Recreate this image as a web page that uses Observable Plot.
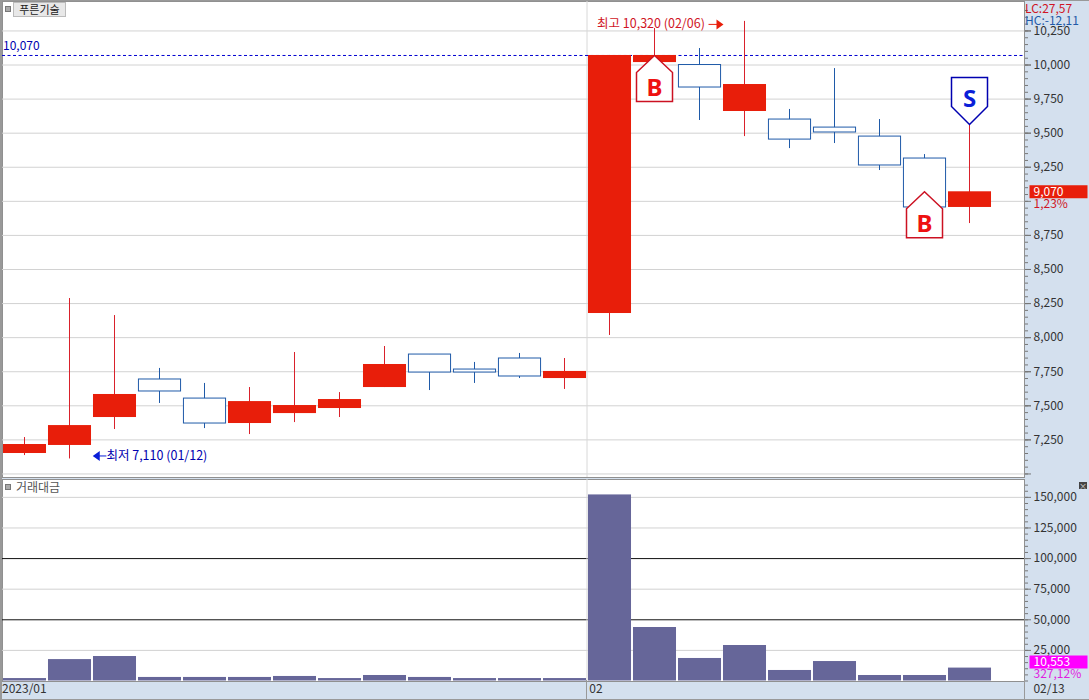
<!DOCTYPE html>
<html><head><meta charset="utf-8">
<script src="https://cdn.jsdelivr.net/npm/d3@7"></script>
<script src="https://cdn.jsdelivr.net/npm/@observablehq/plot@0.6"></script>
<style>
html,body{margin:0;padding:0;background:#d4e0ee;overflow:hidden}
#c{position:relative;width:1089px;height:700px;overflow:hidden;background:#d4e0ee;font-family:"Liberation Sans Narrow","Noto Sans CJK KR",sans-serif}
#c svg{position:absolute;left:0;background:transparent;font-family:"Liberation Sans Narrow","Noto Sans CJK KR",sans-serif}
.h{position:absolute;font-size:12px;line-height:12px;white-space:nowrap}
.btn{left:13px;top:2px;width:51px;height:13px;background:#e8e8e8;border:1px solid #bbb;color:#222;text-align:center;font-family:"Noto Sans CJK KR";font-size:11px;line-height:13px}
.sq{width:4px;height:4px;background:#aaa;border:1px solid #777;left:5px}
.lbl{left:16px;top:481px;color:#555;font-family:"Noto Sans CJK KR";font-size:12px}
.x{left:1079px;top:482px;width:8px;height:7px;background:#444;color:#ddd;font-size:8px;line-height:7px;text-align:center}
.edge{position:absolute;background:#999}
</style></head><body><div id="c"></div>
<script>
const idx   = [1,2,3,4,5,6,7,8,9,10,11,12,13,14,15,16,17,18,19,20,21,22];
const opens = [7150,7209,7414,7693,7553,7370,7443,7480,7634,7876,7766,7847,7700,8177,10018,10000,9659,9600,9541,9475,9314,8955];
const closes= [7216,7355,7583,7605,7370,7531,7502,7546,7803,7744,7744,7715,7752,10070,10070,9835,9857,9453,9505,9263,8955,9070];
const highs = [7267,8287,8162,7774,7664,7634,7891,7597,7935,7876,7818,7884,7847,10070,10268,10121,10320,9674,9974,9600,9343,9564];
const lows  = [7135,7110,7326,7517,7333,7289,7377,7414,7634,7612,7664,7700,7620,8016,10018,9593,9475,9387,9424,9226,8955,8837];
const turnover=[2000,17500,20000,2900,2900,2900,3700,2000,4500,2900,2000,2000,2000,152000,43700,18400,29000,8600,15900,4500,4500,10553];
const priceGrid=[7000,7250,7500,7750,8000,8250,8500,8750,9000,9250,9500,9750,10000,10250];
const priceLabels=[7250,7500,7750,8000,8250,8500,8750,9250,9500,9750,10000,10250];
const turnTicks=[25000,50000,75000,100000,125000,150000];
const boldLines=[50000,100000];
const monthLabels=[{i:0.5,t:"2023/01"},{i:13.55,t:"02"},{i:23.42,t:"02/13"}];
const signals=[{i:15,v:10070,t:"B"},{i:21,v:9070,t:"B"},{i:22,v:9564,t:"S"}];

const candles=idx.map((d,k)=>({i:d,o:opens[k],c:closes[k],h:highs[k],l:lows[k],vol:turnover[k]}));
const RED="#e81e0a",WICK="#d9212b",BLUE="#1f5aa8",NAVY="#0000b0";
const hw=0.478;
const minor=(a,b,s)=>d3.range(a,b+1,s);
const fmt=d3.format(",");
const xs={domain:[1,22],range:[24,969]};
const house={draw(c){c.moveTo(0,0);c.lineTo(18,17);c.lineTo(18,46);c.lineTo(-18,46);c.lineTo(-18,17);c.closePath();}};
const shield={draw(c){c.moveTo(0,0);c.lineTo(18,-18);c.lineTo(18,-47);c.lineTo(-18,-47);c.lineTo(-18,-18);c.closePath();}};
const tag={draw(c){c.rect(-29,-6.5,58,13);}};
const triR={draw(c){c.moveTo(6,0);c.lineTo(-1,-5);c.lineTo(-1,5);c.closePath();}};
const triL={draw(c){c.moveTo(-6,0);c.lineTo(1,-5);c.lineTo(1,5);c.closePath();}};
const up=candles.filter(d=>d.c>=d.o), down=candles.filter(d=>d.c<d.o);

const upper=Plot.plot({
  width:1089,height:478,marginLeft:2,marginRight:65,marginTop:1,marginBottom:1,
  x:{...xs,axis:null},
  y:{domain:[6974,10466],range:[477,1],axis:null},
  marks:[
    Plot.frame({fill:"white",stroke:"#909090"}),
    Plot.ruleY(priceGrid,{stroke:"#d2d2d2"}),
    Plot.ruleX([13.5],{stroke:"#d8d8d8"}),
    Plot.axisY({anchor:"right",ticks:minor(7000,10400,50),tickSize:3,text:null,stroke:"#777",label:null}),
    Plot.axisY(priceGrid,{anchor:"right",tickSize:6,text:null,stroke:"#777",label:null}),
    Plot.axisY(priceLabels,{anchor:"right",tickSize:6,tickPadding:3,tickFormat:fmt,label:null,fontSize:12,fill:"#333",stroke:"#777"}),
    Plot.ruleY([10070],{stroke:"#0000d0",strokeDasharray:"3,2.5"}),
    Plot.text(["10,070"],{x:0.5,y:10070,dx:1,dy:-9,textAnchor:"start",fill:NAVY,fontSize:12}),
    Plot.ruleX(up,{x:"i",y1:"l",y2:"h",stroke:WICK}),
    Plot.ruleX(down,{x:"i",y1:"l",y2:"h",stroke:BLUE}),
    Plot.rect(up,{x1:d=>d.i-hw,x2:d=>d.i+hw,y1:"o",y2:"c",fill:RED,dx:0.5}),
    Plot.rect(down,{x1:d=>d.i-hw+0.01,x2:d=>d.i+hw-0.01,y1:"o",y2:"c",fill:"white",stroke:BLUE,dx:0.5}),
    Plot.dot(signals.filter(d=>d.t==="B"),{x:"i",y:"v",symbol:house,fill:"white",stroke:"#cc1122",r:5}),
    Plot.dot(signals.filter(d=>d.t==="S"),{x:"i",y:"v",symbol:shield,fill:"white",stroke:NAVY,r:5}),
    Plot.text(signals.filter(d=>d.t==="B"),{x:"i",y:"v",text:"t",dy:33,fill:"#ee1111",fontSize:24,fontWeight:700,fontFamily:"Noto Sans"}),
    Plot.text(signals.filter(d=>d.t==="S"),{x:"i",y:"v",text:"t",dy:-25,fill:"#0a1ed8",fontSize:24,fontWeight:700,fontFamily:"Noto Sans"}),
    Plot.text(["최고 10,320 (02/06)"],{x:13.5,y:10320,dx:10,dy:3,textAnchor:"start",fill:"#d01525",fontSize:12.5}),
    Plot.link([{a:16.2,b:16.4,v:10320}],{x1:"a",x2:"b",y1:"v",y2:"v",dy:3,stroke:RED}),
    Plot.dot([{a:16.4,v:10320}],{x:"a",y:"v",dy:3,symbol:triR,fill:RED,r:4}),
    Plot.text(["최저 7,110 (01/12)"],{x:2.82,y:7110,dy:-3,textAnchor:"start",fill:NAVY,fontSize:12.5}),
    Plot.link([{a:2.65,b:2.82,v:7110}],{x1:"a",x2:"b",y1:"v",y2:"v",dy:-3,stroke:"#0a1ed8"}),
    Plot.dot([{a:2.65,v:7110}],{x:"a",y:"v",dy:-3,symbol:triL,fill:"#0a1ed8",r:4}),
    Plot.dot([{i:24,v:9070}],{x:"i",y:"v",symbol:tag,fill:RED,r:4,dx:-1}),
    Plot.text(["9,070"],{x:24,y:9070,dx:-26,textAnchor:"start",fill:"white",fontSize:12}),
    Plot.text(["1,23%"],{x:24,y:9070,dx:-26,dy:12,textAnchor:"start",fill:"#d01525",fontSize:12})
  ]
});
upper.style.top="0px";

const lower=Plot.plot({
  width:1089,height:222,marginLeft:2,marginRight:65,marginTop:1,marginBottom:19,
  x:{...xs,axis:null},
  y:{domain:[0,164600],range:[202.5,1],axis:null},
  marks:[
    Plot.frame({fill:"white",stroke:"#909090"}),
    Plot.ruleY(turnTicks.filter(d=>!boldLines.includes(d)),{stroke:"#d2d2d2"}),
    Plot.ruleY(boldLines,{stroke:"#111"}),
    Plot.ruleX([13.5],{stroke:"#d8d8d8"}),
    Plot.axisY({anchor:"right",ticks:minor(0,160000,5000),tickSize:3,text:null,stroke:"#777",label:null}),
    Plot.axisY(turnTicks,{anchor:"right",tickSize:6,tickPadding:3,tickFormat:fmt,label:null,fontSize:12,fill:"#333",stroke:"#777"}),
    Plot.rect(candles,{x1:d=>d.i-hw,x2:d=>d.i+hw,y1:0,y2:"vol",fill:"#666699",dx:0.5}),
    Plot.dot([{i:24,v:10553}],{x:"i",y:"v",dy:-6,symbol:tag,fill:"#ff00ff",r:4,dx:-1}),
    Plot.text(["10,553"],{x:24,y:10553,dx:-26,dy:-6,textAnchor:"start",fill:"white",fontSize:12}),
    Plot.text(["327,12%"],{x:24,y:10553,dx:-26,dy:6,textAnchor:"start",fill:"#e020e0",fontSize:12}),
    Plot.text(monthLabels,{x:"i",text:"t",frameAnchor:"bottom",dy:11,textAnchor:"start",fill:"#333",fontSize:12,dx:0})
  ]
});
lower.style.top="478px";
const host=document.getElementById("c");
host.append(upper,lower);
for(const [cls,txt,sty] of [
  ["btn","푸른기술",""],
  ["sq","", "top:6px"],
  ["sq","", "top:484px"],
  ["lbl","거래대금",""],
  ["x","×",""],
  ["","LC:27,57","left:1025px;top:2px;color:#d01525"],
  ["","HC:-12,11","left:1025px;top:14px;color:#1f5aa8"],
  ["edge","","left:0;top:0;width:2px;height:700px"],
  ["edge","","left:0;top:0;width:1089px;height:1px"],
  ["edge","","left:0;top:699px;width:1089px;height:1px"],
  ["edge","","left:1024px;top:680px;width:1px;height:20px"],
  ["edge","","left:586px;top:680px;width:1px;height:20px"]
]){const e=document.createElement("div");e.className=cls==="edge"?"edge":"h "+cls;e.textContent=txt;if(sty)e.style.cssText=sty;host.append(e);}
</script></body></html>
